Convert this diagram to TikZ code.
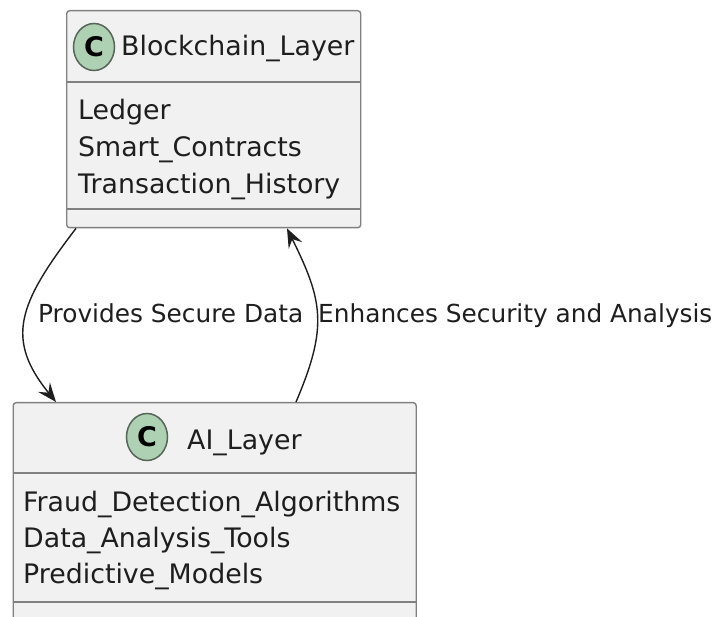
\documentclass[tikz,border=0pt]{standalone}
\usepackage{fontspec}
\setmainfont{DejaVu Sans}
\usetikzlibrary{arrows.meta,shapes.geometric}
\definecolor{boxfill}{HTML}{F1F1F1}
\definecolor{boxline}{HTML}{808080}
\definecolor{spotfill}{HTML}{ADD1B2}
\definecolor{inkc}{HTML}{1E1E1E}
\tikzset{
  classbox/.style={draw=boxline, fill=boxfill, line width=1.4pt, rounded corners=3pt, inner sep=0pt, anchor=north west},
  divider/.style={draw=boxline, line width=1.4pt},
  spot/.style={ellipse, draw=inkc!60!spotfill, fill=spotfill, line width=1.5pt, minimum width=41pt, minimum height=47pt, inner sep=0pt},
  spotletter/.style={font=\fontsize{27}{27}\selectfont\bfseries, text=black},
  titletext/.style={font=\fontsize{26.8}{30}\selectfont, text=inkc, anchor=base west, inner sep=0pt},
  attrtext/.style={font=\fontsize{26.8}{30}\selectfont, text=inkc, anchor=base west, inner sep=0pt},
  labeltext/.style={font=\fontsize{24.8}{28}\selectfont, text=inkc, anchor=base west, inner sep=0pt},
  link/.style={draw=inkc, line width=1.4pt, -{Stealth[length=19pt,width=15pt,inset=7pt]}}
}
\begin{document}
\begin{tikzpicture}[x=1pt,y=-1pt]
\useasboundingbox (0,0) rectangle (716,617);
\fill[white] (0,0) rectangle (716,617);

% Blockchain layer
\node[classbox, minimum width=294pt, minimum height=217pt] (bc) at (66,10) {};
\draw[divider] (66,82) -- (360,82);
\draw[divider] (66,209) -- (360,209);
\node[spot] (bcspot) at (94,47) {};
\node[spotletter] (bcC) at (bcspot.center) {C};
\node[titletext] (bctitle) at (121,56) {Blockchain\_Layer};
\node[attrtext] (bca1) at (78,120) {Ledger};
\node[attrtext] (bca2) at (78,157) {Smart\_Contracts};
\node[attrtext] (bca3) at (78,194) {Transaction\_History};

% AI layer
\node[classbox, minimum width=403pt, minimum height=260pt] (ai) at (12.5,402) {};
\draw[divider] (12.5,473) -- (415.5,473);
\draw[divider] (12.5,602) -- (415.5,602);
\node[spot] (aispot) at (147,437) {};
\node[spotletter] (aiC) at (aispot.center) {C};
\node[titletext] (aititle) at (187,450) {AI\_Layer};
\node[attrtext] (aia1) at (23,512) {Fraud\_Detection\_Algorithms};
\node[attrtext] (aia2) at (23,548) {Data\_Analysis\_Tools};
\node[attrtext] (aia3) at (23,584) {Predictive\_Models};

% connectors
\draw[link] ([xshift=10pt]bc.south west) .. controls (18,304) and (5,339) .. ([xshift=43.5pt]ai.north west);
\draw[link] ([xshift=283.5pt]ai.north west) .. controls (328,327) and (323,301) .. ([xshift=221pt]bc.south west);

\node[labeltext] (l1) at (38,323) {Provides Secure Data};
\node[labeltext] (l2) at (318,323) {Enhances Security and Analysis};
\end{tikzpicture}
\end{document}
